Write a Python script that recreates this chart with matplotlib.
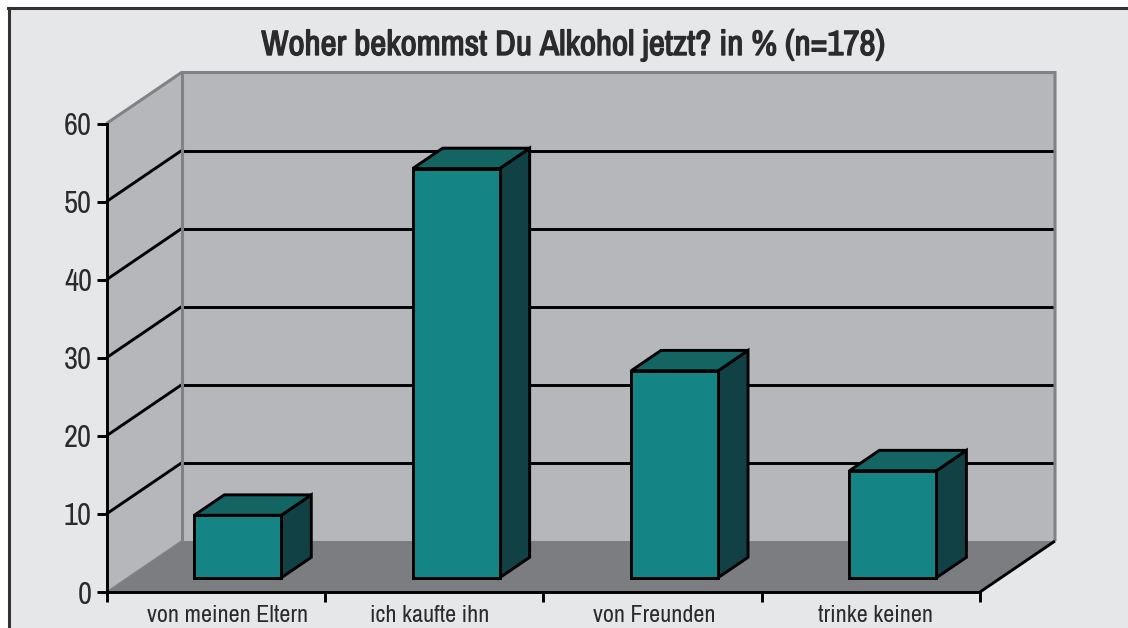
import matplotlib
matplotlib.use("Agg")
import matplotlib.pyplot as plt
import matplotlib.patheffects as pe
from matplotlib.lines import Line2D
from matplotlib.patches import Polygon, Rectangle

categories = ["von meinen Eltern", "ich kaufte ihn", "von Freunden", "trinke keinen"]
values = [8.0, 52.4, 26.5, 13.7]
y_ticks = [0, 10, 20, 30, 40, 50, 60]

W, H = 1128, 628
# front plane of the chart in pixels
LEFT, RIGHT, TOP, BOTTOM = 106.5, 980.0, 123.5, 592.0
# full depth of the box, in data units (75 px across, 51 px up)
DX = 75.0 / ((RIGHT - LEFT) / 4)
DY = 51.0 / ((BOTTOM - TOP) / 60)

plt.rcParams["font.family"] = ["Archivo Narrow", "Liberation Sans", "DejaVu Sans"]

fig = plt.figure(figsize=(W / 100, H / 100), dpi=100, facecolor="white")

# panel and its border (open at right and bottom), behind the axes
fig.add_artist(Rectangle((9 / W, 0), 1, 1 - 8 / H, transform=fig.transFigure,
                         facecolor="#e6e7e9", edgecolor="none", zorder=-3))
fig.add_artist(Line2D([9 / W, 9 / W], [0, 1 - 8 / H], transform=fig.transFigure,
                      color="#333335", lw=2.2, zorder=-2))
fig.add_artist(Line2D([8 / W, 1], [1 - 8 / H, 1 - 8 / H], transform=fig.transFigure,
                      color="#333335", lw=2.2, zorder=-2))

ax = fig.add_axes([LEFT / W, 1 - BOTTOM / H, (RIGHT - LEFT) / W, (BOTTOM - TOP) / H])
ax.set_xlim(0, 4)
ax.set_ylim(0, 60)
ax.patch.set_visible(False)


def pr(x, y, d):
    # project a point at depth d (0 front, 1 back) onto the picture
    return (x + d * DX, y + d * DY)


def poly(points, color, edge="none", lw=0, z=1):
    ax.add_patch(Polygon(points, closed=True, facecolor=color, edgecolor=edge,
                         linewidth=lw, joinstyle="miter", clip_on=False, zorder=z))


def line(p, q, color, lw, z=2):
    ax.plot([p[0], q[0]], [p[1], q[1]], color=color, lw=lw, clip_on=False,
            zorder=z, solid_capstyle="butt")


WALL = "#b6b7bb"
FLOOR = "#7c7d81"
EDGE = "#808285"
BLACK_LW = 2.1

# walls and floor
poly([pr(0, 0, 1), pr(4, 0, 1), pr(4, 60, 1), pr(0, 60, 1)], WALL)
poly([pr(0, 0, 0), pr(0, 0, 1), pr(0, 60, 1), pr(0, 60, 0)], WALL)
poly([pr(0, 0, 0), pr(4, 0, 0), pr(4, 0, 1), pr(0, 0, 1)], FLOOR)

# grid lines, back wall and side wall
for v in y_ticks[1:-1]:
    line(pr(0, v, 0), pr(0, v, 1), "black", BLACK_LW)
    line(pr(0, v, 1), pr(4, v, 1), "black", BLACK_LW)

# grey edges of the box
line(pr(0, 0, 1), pr(0, 60, 1), EDGE, 2.2, z=3)
ax.plot(*zip(pr(0, 60, 0), pr(0, 60, 1), pr(4, 60, 1), pr(4, 0, 1)), color=EDGE, lw=2.2,
        clip_on=False, zorder=3, solid_joinstyle="miter", solid_capstyle="butt")
line(pr(0, 0, 0), pr(0, 0, 1), EDGE, 1.0, z=3)
line(pr(4, 0, 0), pr(4, 0, 1), "black", BLACK_LW, z=3)

# bars
BAR_W = 87.0 / ((RIGHT - LEFT) / 4)
D0, D1 = 0.28, 0.68
for i, v in enumerate(values):
    x0 = i + 0.505 - BAR_W / 2
    x1 = i + 0.505 + BAR_W / 2
    poly([pr(x1, 0, D0), pr(x1, 0, D1), pr(x1, v, D1), pr(x1, v, D0)], "#124145",
         "black", BLACK_LW, z=5)
    poly([pr(x0, v, D0), pr(x1, v, D0), pr(x1, v, D1), pr(x0, v, D1)], "#156464",
         "black", BLACK_LW, z=5)
    poly([pr(x0, 0, D0), pr(x1, 0, D0), pr(x1, v, D0), pr(x0, v, D0)], "#148484",
         "black", BLACK_LW, z=6)

# axes
for s in ["top", "right"]:
    ax.spines[s].set_visible(False)
for s in ["left", "bottom"]:
    ax.spines[s].set_linewidth(BLACK_LW)
    ax.spines[s].set_zorder(7)
ax.set_yticks(y_ticks)
ax.tick_params(axis="y", length=7, width=BLACK_LW, pad=3.5, labelsize=22, labelcolor="#2b2a2c")
ax.set_xticks(range(5))
ax.tick_params(axis="x", which="major", length=7, width=BLACK_LW, labelbottom=False)
ax.set_xticks([0.554, 1.48, 2.507, 3.52], minor=True)
ax.set_xticklabels(categories, minor=True)
ax.tick_params(axis="x", which="minor", length=0, pad=9.5, labelsize=17.3, labelcolor="#2b2a2c")

# Archivo Narrow has no bold cut here, so the title gets a thin stroke of its own colour
fig.text(573 / W, 1 - 45 / H, "Woher bekommst Du Alkohol jetzt? in % (n=178)",
         ha="center", va="center", fontsize=25.3, color="#2b2a2c",
         path_effects=[pe.withStroke(linewidth=1.0, foreground="#2b2a2c")])

fig.savefig("out.png", dpi=100)
